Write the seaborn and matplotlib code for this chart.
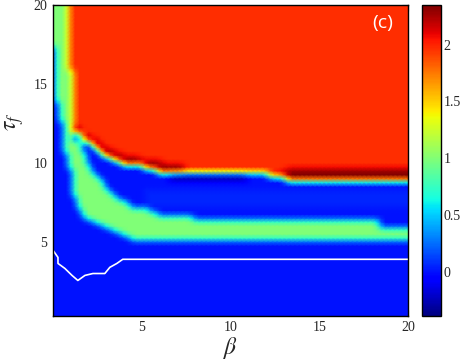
import numpy as np
import matplotlib
matplotlib.use('Agg')
import matplotlib.pyplot as plt
from matplotlib.path import Path
import seaborn as sns

# grid of the map (beta across, tau_f up)
beta_nodes = np.arange(-0.5, 20.51, 0.25)
tau_nodes = np.arange(0, 20.51, 0.25)

# levels of the regions
level_blue = 0.0
level_light = 0.05
level_green = 1.0
level_red = 1.97
level_ridge = 2.35
level_dark = -0.3

# outlines, (beta, tau) pairs
green_beta = [-0.5, -0.5, 0.22, 0.22, 0.5, 0.5, 0.75, 1.1, 1.3, 1.6, 2.1, 3.2, 4.7, 5.5, 21, 21,
              18.3, 18.3, 7.8, 7.8, 6.0, 5.3, 4.4, 3.6, 2.8, 2.1, 1.7, 1.5, 1.5]
green_tau = [21, 17.4, 17.4, 14.0, 13.5, 12.7, 10.6, 9.1, 7.6, 6.8, 6.4, 5.9, 5.1, 5.05, 5.05, 5.9,
             5.9, 6.4, 6.4, 6.7, 6.7, 7.0, 7.2, 7.8, 8.7, 9.7, 10.8, 11.5, 21]

red_beta = [0.77, 0.77, 1.07, 1.07, 1.7, 2.6, 3.4, 4.3, 5.4, 6.0, 11.3, 12.8, 13.5, 21, 21]
red_tau = [21, 15.9, 15.9, 12.1, 11.5, 10.8, 10.2, 9.9, 9.7, 9.5, 9.45, 9.05, 8.95, 8.95, 21]

ridge_left_beta = [1.0, 1.8, 2.7, 3.5, 4.4, 5.4, 6.5, 7.5, 7.5, 1.0]
ridge_left_tau = [12.6, 11.9, 11.2, 10.65, 10.35, 10.15, 9.95, 9.8, 8.0, 8.0]
ridge_right_beta = [12.5, 13.5, 21, 21, 12.5]
ridge_right_tau = [9.35, 9.6, 9.6, 8.0, 8.0]

dark_beta = [6.5, 10.8, 10.8, 6.5]
dark_tau = [9.3, 9.3, 8.85, 8.85]

light_beta = [5.0, 21, 21, 5.0]
light_tau = [8.4, 8.4, 7.2, 7.2]

hole_beta = [1.2, 1.55, 1.55, 1.2]
hole_tau = [11.4, 11.4, 11.8, 11.8]

# white contour
white_beta = [0, 0.28, 0.28, 0.67, 1.07, 1.40, 1.80, 2.25, 2.92, 3.20, 3.60, 3.93, 20]
white_tau = [4.46, 4.01, 3.63, 3.31, 2.87, 2.55, 2.87, 2.99, 2.99, 3.38, 3.63, 3.89, 3.89]

cbar_ticks = [0, 0.5, 1, 1.5, 2]
cbar_labels = ['0', '0.5', '1', '1.5', '2']

sns.set_style('ticks')
plt.rcParams['font.family'] = ['Liberation Serif', 'DejaVu Serif']
plt.rcParams['mathtext.fontset'] = 'stix'

B, T = np.meshgrid(beta_nodes, tau_nodes)
pts = np.column_stack([B.ravel(), T.ravel()])


def inside(bs, ts):
    return Path(np.column_stack([bs, ts])).contains_points(pts).reshape(B.shape)


field = np.full(B.shape, level_blue)
field[inside(light_beta, light_tau)] = level_light
field[inside(green_beta, green_tau)] = level_green
red = inside(red_beta, red_tau)
field[red] = level_red
field[red & inside(ridge_left_beta, ridge_left_tau)] = level_ridge
field[red & inside(ridge_right_beta, ridge_right_tau)] = level_ridge
field[inside(dark_beta, dark_tau)] = level_dark
field[inside(hole_beta, hole_tau)] = level_blue

# soften the edges a bit, like interpolated shading
p = np.pad(field, 1, mode='edge')
field = 0.25 * p[:-2, 1:-1] + 0.5 * p[1:-1, 1:-1] + 0.25 * p[2:, 1:-1]
p = np.pad(field, 1, mode='edge')
field = 0.25 * p[1:-1, :-2] + 0.5 * p[1:-1, 1:-1] + 0.25 * p[1:-1, 2:]

fig = plt.figure(figsize=(4.63, 3.6), dpi=100)
ax = fig.add_axes([53 / 463, 1 - 315.5 / 360, 355 / 463, 310.5 / 360])
cax = fig.add_axes([422 / 463, 1 - 316 / 360, 19 / 463, 311 / 360])

mesh = ax.pcolormesh(beta_nodes, tau_nodes, field, cmap='jet', vmin=-0.39, vmax=2.35,
                     shading='gouraud')
sns.lineplot(x=white_beta, y=white_tau, color='white', lw=1.2, sort=False, estimator=None, ax=ax)

ax.set_xlim(0, 20)
ax.set_ylim(0.33, 20)
ax.set_xticks([5, 10, 15, 20])
ax.set_yticks([5, 10, 15, 20])
ax.tick_params(direction='in', top=True, right=True, length=4, labelsize=10, pad=4)
for s in ax.spines.values():
    s.set_color('black')
    s.set_linewidth(1)

ax.set_xlabel(r'$\beta$', fontsize=17)
ax.xaxis.set_label_coords(0.5, -0.062)
ax.set_ylabel(r'$\tau_f$', fontsize=17)
ax.yaxis.set_label_coords(-0.075, 0.623)

ax.text(18.6, 18.86, '(c)', color='white', fontsize=14, ha='center', va='center',
        family='Open Sans')

cb = fig.colorbar(mesh, cax=cax, ticks=cbar_ticks)
cb.ax.set_yticklabels(cbar_labels)
cb.ax.tick_params(direction='in', length=3, left=True, right=True, labelsize=10, pad=2)
cb.outline.set_linewidth(1)
cb.outline.set_edgecolor('black')

fig.savefig('out.png', dpi=100)
